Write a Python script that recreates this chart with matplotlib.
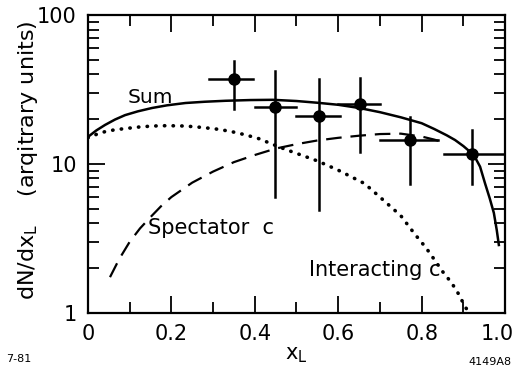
import numpy as np
import matplotlib
matplotlib.use("Agg")
import matplotlib.pyplot as plt
from matplotlib.ticker import FixedLocator, NullFormatter
from matplotlib.transforms import ScaledTranslation

# --- measured points ---
x_pts = [0.35, 0.448, 0.554, 0.653, 0.773, 0.92]
y_pts = [37, 24, 21, 25.3, 14.5, 11.7]
y_hi = [49, 42, 37, 38, 20.7, 16.9]
y_lo = [23.4, 6.0, 4.9, 12, 7.4, 7.4]
x_lo = [0.29, 0.40, 0.50, 0.60, 0.70, 0.853]
x_hi = [0.395, 0.50, 0.605, 0.70, 0.84, 1.0]

# --- model curves ---
sum_x = [0.0, 0.02, 0.041, 0.065, 0.089, 0.12, 0.154, 0.19, 0.234, 0.28, 0.33,
         0.39, 0.443, 0.5, 0.55, 0.6, 0.65, 0.7, 0.75, 0.8, 0.83, 0.86, 0.88,
         0.9, 0.925, 0.94, 0.952, 0.963, 0.973, 0.98, 0.985]
sum_y = [15.2, 16.8, 18.3, 19.9, 21.3, 22.6, 23.8, 24.8, 25.7, 26.2, 26.6,
         26.9, 27, 26.5, 25.8, 25, 23.8, 22.3, 20.6, 18.8, 17.2, 15.6, 14.5,
         13.2, 11.5, 9.6, 7.4, 5.9, 4.7, 3.6, 2.86]

spec_x = [0.053, 0.075, 0.1, 0.125, 0.15, 0.175, 0.2, 0.25, 0.3, 0.35, 0.4,
          0.45, 0.5, 0.55, 0.6, 0.65, 0.7, 0.75, 0.8, 0.83, 0.86]
spec_y = [1.74, 2.3, 3.0, 3.7, 4.4, 5.2, 6.0, 7.5, 8.9, 10.3, 11.5,
          12.7, 13.6, 14.4, 15, 15.5, 15.9, 16, 15.3, 14.6, 13.8]

int_x = [0.0, 0.02, 0.041, 0.065, 0.089, 0.12, 0.154, 0.19, 0.234, 0.275,
         0.314, 0.345, 0.378, 0.41, 0.442, 0.475, 0.5, 0.55, 0.6, 0.663, 0.7,
         0.75, 0.783, 0.81, 0.831, 0.85, 0.872, 0.89, 0.904, 0.915]
int_y = [15.0, 15.8, 16.5, 17.0, 17.3, 17.7, 18, 18.1, 18, 17.6,
         17.1, 16.5, 15.7, 14.8, 13.6, 12.5, 11.8, 10.5, 9.1, 7.4, 6.0,
         4.5, 3.4, 2.75, 2.27, 1.9, 1.59, 1.32, 1.1, 1.0]

fig = plt.figure(figsize=(5.17, 3.78), dpi=100)
ax = fig.add_axes([0.170, 0.172, 0.807, 0.788])

ax.plot(sum_x, sum_y, color='black', lw=1.8)
ax.plot(spec_x, spec_y, color='black', lw=1.6, dashes=(7, 4))
ax.plot(int_x, int_y, color='black', lw=2.6, linestyle=(0, (0.1, 2.3)),
        dash_capstyle='round')

# data points with error bars
for x, y, yl, yh, xl, xh in zip(x_pts, y_pts, y_lo, y_hi, x_lo, x_hi):
    ax.plot([x, x], [yl, yh], color='black', lw=1.8)
    ax.plot([xl, xh], [y, y], color='black', lw=1.8)
ax.plot(x_pts, y_pts, 'o', color='black', ms=8)

ax.set_yscale('log')
ax.set_xlim(0, 1.0)
ax.set_ylim(1, 100)

ax.set_xticks([0, 0.2, 0.4, 0.6, 0.8, 1.0])
ax.set_xticklabels(['0', '0.2', '0.4', '0.6', '0.8', '1.0'])
ax.xaxis.set_minor_locator(FixedLocator([0.1, 0.3, 0.5, 0.7, 0.9]))
ax.set_yticks([1, 10, 100])
ax.set_yticklabels(['1', '10', '100'])
ax.yaxis.set_minor_formatter(NullFormatter())

ax.tick_params(which='both', direction='in', top=True, right=True, width=1.3,
               labelsize=15, pad=8)
ax.tick_params(which='major', length=12)
ax.tick_params(which='minor', length=8)
for s in ax.spines.values():
    s.set_linewidth(1.6)

# nudge the last x label so it stays inside the figure
lab = ax.get_xticklabels()[-1]
lab.set_transform(lab.get_transform() + ScaledTranslation(-0.08, 0, fig.dpi_scale_trans))

ax.text(0.15, 28, 'Sum', fontsize=14.5, ha='center', va='center')
ax.text(0.145, 3.7, 'Spectator  c', fontsize=15, ha='left', va='center')
ax.text(0.53, 1.94, 'Interacting c', fontsize=15, ha='left', va='center')

ax.set_xlabel(r'x$_\mathregular{L}$', fontsize=15, labelpad=1)
ax.set_ylabel(r'dN/dx$_\mathregular{L}$    (arqitrary units)', fontsize=16)
ax.yaxis.set_label_coords(-0.115, 0.513)

fig.text(0.012, 0.05, '7-81', fontsize=8, va='center')
fig.text(0.99, 0.042, '4149A8', fontsize=8, ha='right', va='center')

fig.savefig('out.png', dpi=100)
